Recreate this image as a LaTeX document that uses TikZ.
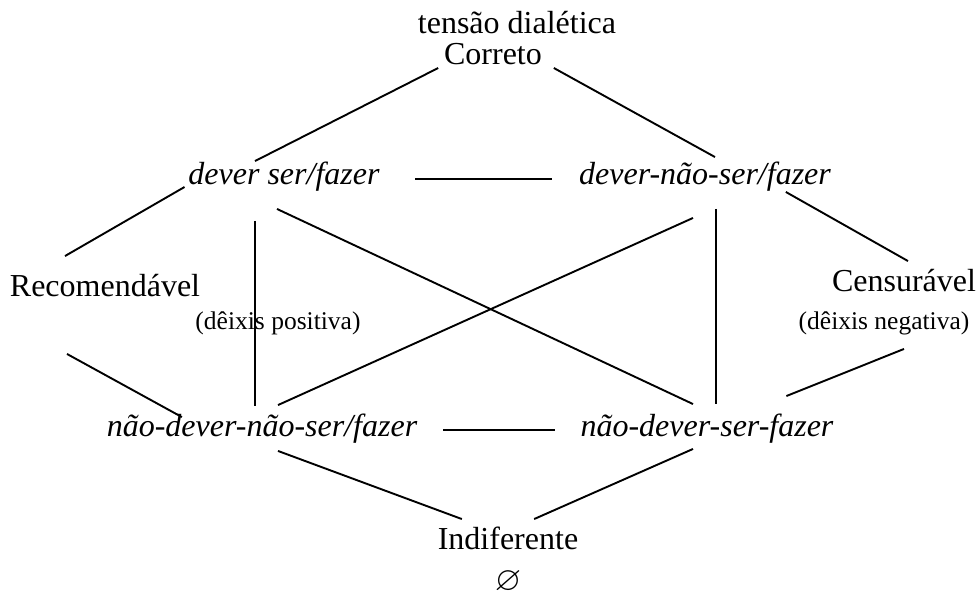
\documentclass[tikz,border=0pt]{standalone}
\usepackage{fontspec}
\setmainfont{Liberation Serif}
\usepackage{amssymb}
\usepackage{tikz}

\begin{document}
\begin{tikzpicture}[x=1pt, y=-1pt, line width=1.9pt,
    termo/.style={font=\fontsize{32}{38}\selectfont, inner sep=0pt,
      text height=22pt, text depth=7pt, anchor=base},
    modal/.style={termo, font=\fontsize{32}{38}\selectfont\itshape},
    deixis/.style={font=\fontsize{25.5}{30}\selectfont, inner sep=0pt, anchor=base}]
    \useasboundingbox (0,0) rectangle (976,591);

    % top
    \node[termo] (tensao) at (517,34) {tensão dialética};
    \node[termo] (cor) at (493,65) {Correto};

    % modalities
    \node[modal] (dsf) at (284,184) {dever ser/fazer};
    \node[modal] (dnsf) at (705,184) {dever-não-ser/fazer};
    \node[modal] (ndns) at (262,436) {não-dever-não-ser/fazer};
    \node[modal] (ndsf) at (707,436) {não-dever-ser-fazer};

    % sides
    \node[termo] (rec) at (105,296) {Recomendável};
    \node[deixis] (dpos) at (278,329) {(dêixis positiva)};
    \node[termo] (cen) at (904,291) {Censurável};
    \node[deixis] (dneg) at (884,329) {(dêixis negativa)};

    % bottom
    \node[termo, text depth=0pt] (ind) at (508,549) {Indiferente};
    \node[anchor=base, inner sep=0pt, font=\fontsize{34}{40}\selectfont] (vazio) at (508,590) {$\varnothing$};

    % upper edges
    \draw[] ([xshift=-5pt,yshift=-3pt]cor.base west) -- ([xshift=-29pt]dsf.north);
    \draw[] ([xshift=11pt,yshift=-3pt]cor.base east) -- ([xshift=10pt,yshift=4pt]dnsf.north);
    \draw[shorten <=35pt, shorten >=26pt] ([yshift=3pt]dsf.mid east) -- ([yshift=3pt]dnsf.mid west);
    \draw[] ([xshift=56pt,yshift=17pt]rec.north west) -- ([xshift=-3pt,yshift=-3pt]dsf.base west);
    \draw[] ([xshift=-46pt]dnsf.south east) -- ([xshift=4pt,yshift=7pt]cen.north);

    % verticals and diagonals
    \draw[] ([xshift=-29pt,yshift=-29pt]dsf.south) -- ([xshift=-7pt,yshift=7pt]ndns.north);
    \draw[] ([xshift=11pt,yshift=-17pt]dnsf.south) -- ([xshift=9pt,yshift=9pt]ndsf.north);
    \draw[] ([xshift=-7pt,yshift=-17pt]dsf.south) -- ([xshift=-14pt,yshift=9pt]ndsf.north);
    \draw[] ([xshift=-12pt,yshift=-26pt]dnsf.south) -- ([xshift=16pt,yshift=8pt]ndns.north);

    % lower edges
    \draw[] ([xshift=58pt,yshift=-50pt]rec.south west) -- ([xshift=76pt,yshift=-4pt]ndns.north west);
    \draw[shorten <=25pt, shorten >=25pt] ([yshift=4pt]ndns.mid east) -- ([yshift=4pt]ndsf.mid west);
    \draw[] ([yshift=-50pt]cen.south) -- ([xshift=-48pt,yshift=17pt]ndsf.north east);
    \draw[] ([xshift=16pt,yshift=-7pt]ndns.south) -- ([xshift=25pt,yshift=7pt]ind.north west);
    \draw[] ([xshift=-14pt,yshift=-5pt]ndsf.south) -- ([xshift=-45pt,yshift=7pt]ind.north east);
  \end{tikzpicture}
\end{document}
